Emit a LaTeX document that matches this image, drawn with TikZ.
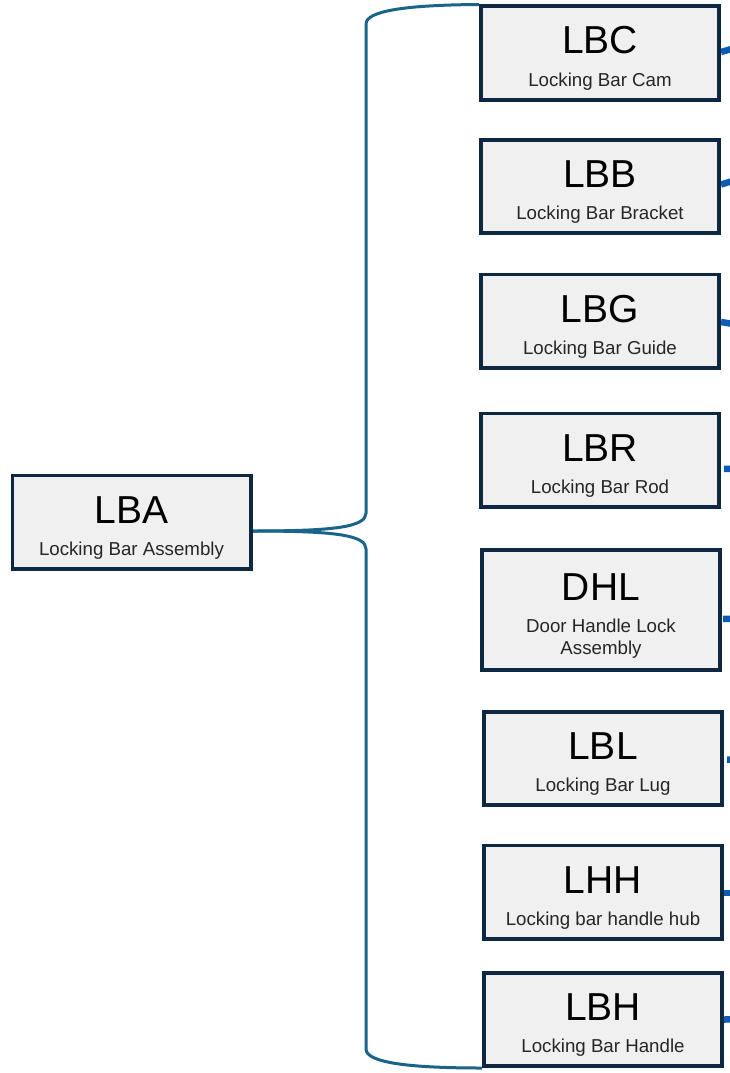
\documentclass[tikz,border=0pt]{standalone}
\usepackage{fontspec}
\setmainfont{Liberation Sans}
\usetikzlibrary{backgrounds}
\definecolor{boxfill}{HTML}{F0F0F0}
\definecolor{boxline}{HTML}{0E2841}
\definecolor{bracecol}{HTML}{1B6489}
\definecolor{stubcol}{HTML}{0B5CB5}
\definecolor{subtxt}{HTML}{262626}
\tikzset{
  pbox/.style={draw=boxline, line width=3.6pt, fill=boxfill, minimum width=238.4pt, minimum height=93.4pt, inner sep=0pt},
  ttl/.style={font=\fontsize{39}{44}\selectfont, text=black, inner sep=0pt, anchor=base},
  sub/.style={font=\fontsize{18.7}{22}\selectfont, text=subtxt, inner sep=0pt, anchor=base},
  bracelink/.style={draw=bracecol, line width=3pt},
  stublink/.style={draw=stubcol, line width=6.5pt},
}
\newcommand\partbox[5]{%
  \node[pbox] (#1) at (#2,#3) {};
  \node[ttl] (#1-t) at ([yshift=-1pt]#1.center) {#4};
  \node[sub] (#1-s) at ([yshift=-33pt]#1.center) {#5};
}
\begin{document}
\begin{tikzpicture}[x=1pt,y=-1pt]
\clip (0,0) rectangle (730,1073);
\partbox{LBA}{131.5}{522}{LBA}{Locking Bar Assembly}
\partbox{LBC}{600}{53}{LBC}{Locking Bar Cam}
\partbox{LBB}{600}{186.5}{LBB}{Locking Bar Bracket}
\partbox{LBG}{600}{321}{LBG}{Locking Bar Guide}
\partbox{LBR}{600}{460}{LBR}{Locking Bar Rod}
\node[pbox, minimum height=120.4pt] (DHL) at (601,610) {};
\node[ttl] (DHL-t) at ([yshift=10pt]DHL.center) {DHL};
\node[sub] (DHL-s1) at ([yshift=-22pt]DHL.center) {Door Handle Lock};
\node[sub] (DHL-s2) at ([yshift=-44pt]DHL.center) {Assembly};
\partbox{LBL}{603}{758.5}{LBL}{Locking Bar Lug}
\partbox{LHH}{603}{892}{LHH}{Locking bar handle hub}
\partbox{LBH}{603}{1019.5}{LBH}{Locking Bar Handle}
\coordinate (sLBC) at (770,38);
\coordinate (sLBB) at (770,170);
\coordinate (sLBG) at (770,330);
\coordinate (sLBR) at (770,467);
\coordinate (sDHL) at (770,618);
\coordinate (sLBL) at (770,760);
\coordinate (sLHH) at (770,893);
\coordinate (sLBH) at (770,1019);
\begin{scope}[on background layer]
\draw[bracelink] ([yshift=-9pt]LBA.east) .. controls (335,531) and (366,527) .. (366,513)
  -- (366,24) .. controls (366,11) and (405,5) .. (LBC.north west);
\draw[bracelink] ([yshift=-9pt]LBA.east) .. controls (335,531) and (366,535) .. (366,549)
  -- (366,1049) .. controls (366,1062) and (405,1068) .. (LBH.south west);
\draw[stublink] ([yshift=1pt]LBC.east) -- (sLBC);
\draw[stublink] ([yshift=2pt]LBB.east) -- (sLBB);
\draw[stublink] ([yshift=-1pt]LBG.east) -- (sLBG);
\draw[stublink] ([xshift=3pt,yshift=-9pt]LBR.east) -- (sLBR);
\draw[stublink] ([xshift=1pt,yshift=-9pt]DHL.east) -- (sDHL);
\draw[stublink] ([xshift=3pt,yshift=-1pt]LBL.east) -- (sLBL);
\draw[stublink] ([yshift=-1pt]LHH.east) -- (sLHH);
\draw[stublink] (LBH.east) -- (sLBH);
\end{scope}
\end{tikzpicture}
\end{document}
